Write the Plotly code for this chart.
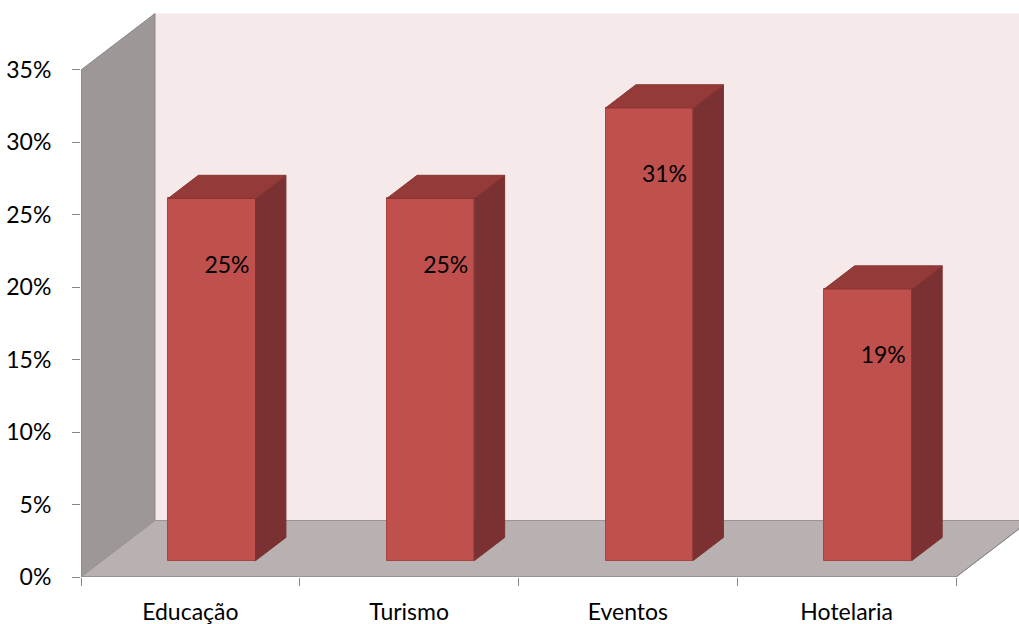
import plotly.graph_objects as go

categories = ["Educação", "Turismo", "Eventos", "Hotelaria"]
values = [25.0, 25.0, 31.25, 18.75]
label_texts = ["25%", "25%", "31%", "19%"]
y_ticks = [0, 5, 10, 15, 20, 25, 30, 35]
y_tick_text = ["0%", "5%", "10%", "15%", "20%", "25%", "30%", "35%"]

# geometry (style)
W, H = 1019, 624
ML, MB = 81, 47
PX_PER_CAT = 218.75
PX_PER_PCT = 14.486
DX = 74 / PX_PER_CAT       # full depth offset in x units
DY = 56.5 / PX_PER_PCT     # full depth offset in y units
D_FRONT, D_BACK = 0.29, 0.70
BAR_W = 0.40
YMAX = 35
LABEL_OFF = 3.6

FONT = "Lato, Open Sans, sans-serif"
FS = 23
C_FRONT = "#C0504D"
C_TOP = "#943B39"
C_SIDE = "#7B3131"
C_EDGE = "#A64441"

x_range = [0, (W - ML) / PX_PER_CAT]
y_range = [0, (H - MB) / PX_PER_PCT]
n = len(categories)

fig = go.Figure()

# walls and floor
shapes = []
shapes.append(dict(type="path", xref="x", yref="y", layer="below",
                   path=f"M {DX},{DY} L {x_range[1]+1},{DY} L {x_range[1]+1},{YMAX+DY} L {DX},{YMAX+DY} Z",
                   fillcolor="#F5E9EA", line=dict(width=0)))
shapes.append(dict(type="path", xref="x", yref="y", layer="below",
                   path=f"M 0,0 L 0,{YMAX} L {DX},{YMAX+DY} L {DX},{DY} Z",
                   fillcolor="#9D9797", line=dict(color="#8C8787", width=1)))
shapes.append(dict(type="path", xref="x", yref="y", layer="below",
                   path=f"M 0,0 L {n},0 L {n+DX},{DY} L {DX},{DY} Z",
                   fillcolor="#B9B1B1", line=dict(color="#9A9494", width=1)))
shapes.append(dict(type="line", xref="x", yref="y", x0=0, y0=0, x1=0, y1=YMAX,
                   line=dict(color="#868686", width=1)))
shapes.append(dict(type="line", xref="x", yref="y", x0=0, y0=0, x1=n, y1=0,
                   line=dict(color="#868686", width=1)))
shapes.append(dict(type="line", xref="x", yref="y", x0=n, y0=0, x1=n+DX, y1=DY,
                   line=dict(color="#868686", width=1)))

fdx, fdy = DX * D_FRONT, DY * D_FRONT
bdx, bdy = DX * D_BACK, DY * D_BACK
ddx, ddy = bdx - fdx, bdy - fdy

for i, v in enumerate(values):
    cx = i + 0.5 + fdx
    xl, xr = cx - BAR_W / 2, cx + BAR_W / 2
    top = v + fdy
    # side face
    fig.add_trace(go.Scatter(
        x=[xr, xr, xr + ddx, xr + ddx, xr], y=[fdy, top, top + ddy, bdy, fdy],
        fill="toself", fillcolor=C_SIDE, mode="lines",
        line=dict(color=C_SIDE, width=1), hoverinfo="skip", showlegend=False))
    # top face
    fig.add_trace(go.Scatter(
        x=[xl, xr, xr + ddx, xl + ddx, xl], y=[top, top, top + ddy, top + ddy, top],
        fill="toself", fillcolor=C_TOP, mode="lines",
        line=dict(color="#8A3432", width=1), hoverinfo="skip", showlegend=False))

# front faces
fig.add_trace(go.Bar(
    x=[i + 0.5 + fdx for i in range(n)], y=values, base=[fdy] * n, width=BAR_W,
    marker=dict(color=C_FRONT, line=dict(color=C_EDGE, width=1)),
    showlegend=False, hoverinfo="skip"))

# data labels
fig.add_trace(go.Scatter(
    x=[i + 0.5 + (fdx + bdx) / 2 for i in range(n)],
    y=[v - LABEL_OFF for v in values],
    text=label_texts, mode="text",
    textfont=dict(family=FONT, size=FS, color="#000000"),
    showlegend=False, hoverinfo="skip"))

fig.update_layout(
    width=W, height=H,
    margin=dict(l=ML, r=0, t=0, b=MB, pad=0),
    paper_bgcolor="white", plot_bgcolor="white",
    shapes=shapes, bargap=0,
    font=dict(family=FONT, size=FS, color="#000000"),
)
fig.update_xaxes(
    range=x_range, showgrid=False, zeroline=False, showline=False,
    tickmode="array", tickvals=[i + 0.5 for i in range(n)], ticktext=categories,
    ticks="", ticklabelstandoff=19, automargin=False,
    minor=dict(tickmode="array", tickvals=list(range(n + 1)), ticks="outside",
               ticklen=8, tickcolor="#868686", tickwidth=1, showgrid=False),
    tickfont=dict(family=FONT, size=FS, color="#000000"),
)
fig.update_yaxes(
    range=y_range, showgrid=False, zeroline=False, showline=False,
    tickmode="array", tickvals=y_ticks, ticktext=y_tick_text,
    ticks="outside", ticklen=8, tickcolor="#868686", tickwidth=1,
    ticklabelstandoff=16, automargin=False,
    tickfont=dict(family=FONT, size=FS, color="#000000"),
)

fig.write_html("out.html")
